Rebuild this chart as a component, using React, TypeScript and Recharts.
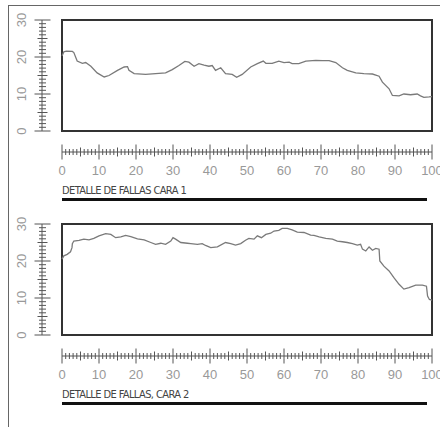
import { LineChart, Line, XAxis, YAxis, ReferenceArea } from "recharts";

// fault depth readings along each face (position 0-100)
const FACE1_POS = [0, 0.5, 1.2, 2.8, 3.2, 4.1, 5.5, 6.4, 7.8, 9.5, 11.4, 12.7, 15, 16.8, 17.7, 18.1, 19.5, 22.6, 25.3, 28, 29.8, 31.6, 33.2, 34.3, 35.7, 37, 38.4, 39.7, 40.6, 41.5, 42.9, 44.2, 46, 47.2, 48.7, 51, 52.8, 54.4, 55.1, 56.8, 58.6, 60, 61.4, 62.2, 64, 65.9, 68.6, 70.4, 72.2, 74, 75.8, 77.1, 79.4, 81.6, 83.9, 85.7, 86.6, 88.4, 89.3, 91.1, 92.4, 94.2, 96, 96.9, 97.8, 99.2, 100];
const FACE1_DEPTH = [20.3, 21.4, 21.6, 21.5, 21.2, 18.9, 18.3, 18.5, 17.5, 15.7, 14.6, 15.0, 16.4, 17.3, 17.4, 16.4, 15.5, 15.3, 15.5, 15.7, 16.6, 17.7, 18.8, 18.6, 17.5, 18.2, 17.8, 17.5, 17.7, 16.4, 17.1, 15.5, 15.3, 14.5, 15.3, 17.3, 18.2, 18.9, 18.3, 18.3, 18.9, 18.5, 18.6, 18.2, 18.2, 18.9, 19.1, 19.0, 19.0, 18.5, 17.1, 16.4, 15.7, 15.5, 15.4, 14.8, 13.2, 11.4, 9.6, 9.5, 10.0, 9.8, 10.0, 9.5, 9.1, 9.2, 9.3];

const FACE2_POS = [0, 0.5, 1.4, 2.3, 2.7, 2.8, 3.2, 4.6, 5.9, 7.3, 8.6, 10, 11.8, 13.2, 14.5, 15.9, 17.2, 18.6, 20.4, 22.2, 24, 25.3, 26.7, 28, 29.4, 30, 30.7, 32.1, 33.9, 34.8, 36.6, 37.9, 38.8, 40.2, 42, 44.2, 45.6, 46.9, 48.3, 49.6, 50.5, 51.9, 52.8, 53.9, 55.1, 56.4, 57.3, 58.6, 59.5, 60.9, 62.2, 63.6, 65.4, 67.2, 68.1, 69.5, 71.3, 73.1, 74.4, 75.8, 77.1, 78.5, 79.8, 80.7, 81.2, 82.1, 83, 83.9, 84.8, 85.7, 85.9, 87, 88.4, 89.7, 91.1, 92.4, 93.8, 95.6, 97.4, 98.5, 98.8, 99.3, 100];
const FACE2_DEPTH = [20.5, 21.4, 21.8, 22.5, 23.6, 24.7, 25.4, 25.6, 25.9, 25.7, 26.1, 26.8, 27.4, 27.2, 26.3, 26.5, 26.9, 26.6, 26.0, 25.7, 25.0, 24.5, 24.8, 24.5, 25.4, 26.3, 25.9, 25.0, 24.8, 24.7, 24.5, 24.7, 24.2, 23.6, 23.8, 25.0, 24.7, 24.3, 24.7, 25.6, 26.1, 25.9, 26.8, 26.3, 27.2, 27.5, 28.1, 28.3, 28.8, 28.8, 28.4, 27.8, 27.7, 27.0, 26.9, 26.5, 26.1, 25.9, 25.4, 25.2, 25.0, 24.7, 24.3, 24.5, 23.2, 22.7, 23.8, 22.9, 23.4, 23.2, 20.0, 18.6, 17.3, 15.5, 13.7, 12.4, 12.8, 13.5, 13.5, 13.2, 10.5, 9.6, 9.4];

const TITLES = ["DETALLE DE FALLAS CARA 1", "DETALLE DE FALLAS, CARA 2"];

const X_MAX = 100;
const Y_MAX = 30;
const X_TICKS = Array.from({ length: X_MAX + 1 }, (_, i) => i);
const Y_TICKS = Array.from({ length: Y_MAX + 1 }, (_, i) => i);

const LABEL_FONT = "'Liberation Sans', sans-serif";
const RULER = "#555";

function tickHalf(v: number) {
  if (v % 10 === 0) return 7.5;
  if (v % 5 === 0) return 4.5;
  return 3;
}

function XRulerTick({ x, y, payload }: any) {
  const v = payload.value;
  const h = tickHalf(v);
  return (
    <g>
      <line x1={x} x2={x} y1={y - h} y2={y + h} stroke={RULER} strokeWidth={1} />
      {v % 10 === 0 && (
        <text x={x} y={y + 23} textAnchor="middle" fontSize={13} fill="#999" fontFamily={LABEL_FONT}>
          {v}
        </text>
      )}
    </g>
  );
}

function YRulerTick({ x, y, payload }: any) {
  const v = payload.value;
  const h = tickHalf(v);
  return (
    <g>
      <line x1={x - h} x2={x + h + 1} y1={y} y2={y} stroke={RULER} strokeWidth={1} />
      {v % 10 === 0 && (
        <text
          x={x - 20}
          y={y + 4}
          textAnchor="middle"
          fontSize={13}
          fill="#999"
          fontFamily={LABEL_FONT}
          transform={`rotate(-90 ${x - 20} ${y})`}
        >
          {v}
        </text>
      )}
    </g>
  );
}

function Panel({ pos, depth, title, top }: { pos: number[]; depth: number[]; title: string; top: number }) {
  const data = pos.map((p, i) => ({ pos: p, depth: depth[i] }));
  return (
    <div style={{ position: "absolute", left: 0, top, width: 440, height: 205 }}>
      <LineChart width={440} height={181} data={data} margin={{ top: 20, right: 8, bottom: 0, left: 0 }}>
        <XAxis xAxisId="pad" dataKey="pos" type="number" domain={[0, X_MAX]} height={21} tick={false} axisLine={false} tickLine={false} />
        <XAxis
          xAxisId="ruler"
          dataKey="pos"
          type="number"
          domain={[0, X_MAX]}
          ticks={X_TICKS}
          interval={0}
          height={29}
          tickSize={0}
          tickMargin={0}
          tickLine={false}
          axisLine={{ stroke: RULER, strokeWidth: 1 }}
          tick={<XRulerTick />}
        />
        <YAxis yAxisId="pad" type="number" domain={[0, Y_MAX]} width={20} tick={false} axisLine={false} tickLine={false} />
        <YAxis
          yAxisId="ruler"
          type="number"
          domain={[0, Y_MAX]}
          ticks={Y_TICKS}
          interval={0}
          width={42}
          tickSize={0}
          tickMargin={0}
          tickLine={false}
          axisLine={{ stroke: RULER, strokeWidth: 1 }}
          tick={<YRulerTick />}
        />
        <ReferenceArea xAxisId="ruler" yAxisId="ruler" x1={0} x2={X_MAX} y1={0} y2={Y_MAX} fill="none" stroke="#333" strokeWidth={2} />
        <Line
          xAxisId="ruler"
          yAxisId="ruler"
          dataKey="depth"
          type="linear"
          stroke="#7a7a7a"
          strokeWidth={1.3}
          dot={false}
          isAnimationActive={false}
        />
      </LineChart>
      <div
        style={{
          position: "absolute",
          left: 62,
          top: 184,
          fontFamily: "'DejaVu Sans', sans-serif",
          fontStretch: "condensed",
          fontSize: 11,
          letterSpacing: -0.6,
          color: "#444",
          whiteSpace: "nowrap",
          lineHeight: "14px",
        }}
      >
        {title}
      </div>
      <div style={{ position: "absolute", left: 62, top: 198, width: 365, height: 3, background: "#111" }} />
    </div>
  );
}

export default function App() {
  return (
    <div style={{ position: "fixed", left: 0, top: 0, width: 440, height: 427, background: "#fff", overflow: "hidden" }}>
      <div style={{ position: "absolute", left: 8, top: 5, width: 440, height: 430, borderLeft: "1.5px solid #666", borderTop: "1.5px solid #666" }} />
      <Panel pos={FACE1_POS} depth={FACE1_DEPTH} title={TITLES[0]} top={0} />
      <Panel pos={FACE2_POS} depth={FACE2_DEPTH} title={TITLES[1]} top={204} />
    </div>
  );
}
